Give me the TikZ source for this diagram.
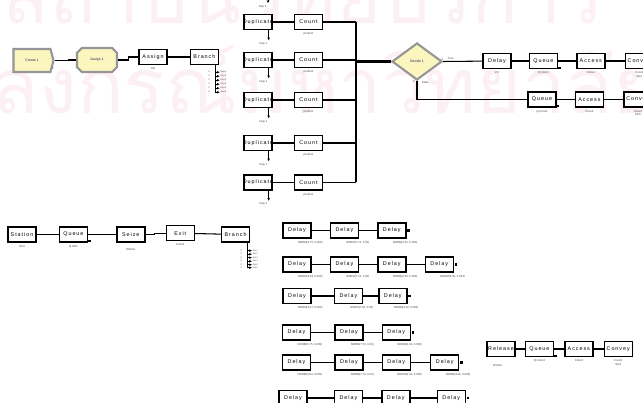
\documentclass[tikz,border=0pt]{standalone}
\usepackage{fontspec}
\setmainfont{Liberation Sans}
\newfontfamily\modfont[LetterSpace=18]{Liberation Sans}
\newfontfamily\thaifont[Script=Thai]{Loma}
\usetikzlibrary{arrows.meta,positioning,shapes.geometric,shapes.misc,shapes.symbols}
\definecolor{modfill}{RGB}{250,246,190}
\definecolor{modedge}{RGB}{150,150,150}
\definecolor{wmark}{RGB}{252,240,245}
\definecolor{cntblue}{RGB}{60,60,170}

\begin{document}
\begin{tikzpicture}[
  x=0.03cm, y=-0.03cm,
  block/.style={draw, line width=1.2pt, fill=white, minimum width=0.84cm, minimum height=0.45cm,
    inner sep=0pt, font=\modfont\fontsize{4.6}{5}\selectfont},
  flow/.style={draw=modedge, line width=1.8pt, fill=modfill, inner sep=0pt,
    font=\fontsize{3}{3.5}\selectfont, text=cntblue!60!black},
  link/.style={line width=0.9pt},
  bus/.style={line width=2pt},
  exitarr/.style={line width=0.8pt, -{Stealth[length=2.4pt,width=2.2pt]}},
  tag/.style={font=\fontsize{2.4}{2.8}\selectfont, text=black!75, inner sep=0pt, align=center},
  mini/.style={font=\fontsize{1.8}{2}\selectfont, text=black!75, inner sep=0pt},
  outpt/.style={fill, minimum size=2pt, inner sep=0pt},
  dly/.style={block, label={[tag, xshift=0.4cm, yshift=-2pt]below:#1}},
  note/.style={label={[tag, yshift=-2pt]below:#1}}
]
\useasboundingbox (0,0) rectangle (643,403);
\begin{scope}
\clip (0,0) rectangle (643,403);

% background lettering
\node[anchor=base west, inner sep=0pt, text=wmark, font=\thaifont\fontsize{66}{66}\selectfont] (wm1) at (2,24) {สถาบันวิทยบริการ};
\node[anchor=base west, inner sep=0pt, text=wmark, font=\thaifont\fontsize{66}{66}\selectfont] (wm2) at (-150,114) {จุฬาลงกรณ์มหาวิทยาลัย};

% arrivals
\node[flow, signal, signal to=east, signal pointer angle=150, minimum width=1.2cm, minimum height=0.69cm] (create) at (32,60.5) {Create 1};
\node[flow, chamfered rectangle, chamfered rectangle xsep=0.1cm, chamfered rectangle ysep=0.1cm,
  minimum width=1.2cm, minimum height=0.72cm] (asg1) at (97,60) {Assign 1};
\node[block, note=Job] (asg) at (153,57) {Assign};
\node[block, right=0.66cm of asg] (br1) {Branch};
\node[tag, text=cntblue] (crn) at (53,69) {0};

\draw[link] (create.east) -- ++(14,0) |- (asg1);
\draw[link] (asg1.east) -- ++(10,0) |- (asg);
\draw[link] (asg) -- (br1);

\path (br1.south east) ++(-4,0) coordinate (br1out);
\draw[link] (br1out) -- ++(0,27);
\draw[exitarr] (br1out) ++(0,7) -- ++(4.5,0) node[mini, right=0.5pt] (b1e1) {Dup.1};
\draw[exitarr] (br1out) ++(0,11) -- ++(4.5,0) node[mini, right=0.5pt] (b1e2) {Dup.2};
\draw[exitarr] (br1out) ++(0,15) -- ++(4.5,0) node[mini, right=0.5pt] (b1e3) {Dup.3};
\draw[exitarr] (br1out) ++(0,19) -- ++(4.5,0) node[mini, right=0.5pt] (b1e4) {Dup.4};
\draw[exitarr] (br1out) ++(0,23) -- ++(4.5,0) node[mini, right=0.5pt] (b1e5) {Dup.5};
\draw[exitarr] (br1out) ++(0,27) -- ++(4.5,0) node[mini, right=0.5pt] (b1e6) {Dup.6};
\node[mini, left=9pt of b1e1.west] (b1i1) {If};
\node[mini, left=9pt of b1e2.west] (b1i2) {If};
\node[mini, left=9pt of b1e3.west] (b1i3) {If};
\node[mini, left=9pt of b1e4.west] (b1i4) {If};
\node[mini, left=9pt of b1e5.west] (b1i5) {If};
\node[mini, left=9pt of b1e6.west] (b1i6) {If};

% duplicate and count column
\coordinate (topin) at (268,-7);
\draw[exitarr] (topin) -- ++(0,10) node[tag, below left=1.5pt and 1pt] (dup0t) {Dup.1};

\node[block] (dup1) at (258,22) {\makebox[0pt]{Duplicate}};
\node[block] (dup2) at (258,60) {\makebox[0pt]{Duplicate}};
\node[block] (dup3) at (258,100) {\makebox[0pt]{Duplicate}};
\node[block] (dup4) at (258,143) {\makebox[0pt]{Duplicate}};
\node[block] (dup5) at (258,182.5) {\makebox[0pt]{Duplicate}};
\node[block, note=prodcnt, right=0.63cm of dup1] (cnt1) {Count};
\node[block, note=prodcnt, right=0.63cm of dup2] (cnt2) {Count};
\node[block, note=prodcnt, right=0.63cm of dup3] (cnt3) {Count};
\node[block, note=prodcnt, right=0.63cm of dup4] (cnt4) {Count};
\node[block, note=prodcnt, right=0.63cm of dup5] (cnt5) {Count};

\draw[link] (dup1) -- (cnt1);
\draw[link] (dup2) -- (cnt2);
\draw[link] (dup3) -- (cnt3);
\draw[link] (dup4) -- (cnt4);
\draw[link] (dup5) -- (cnt5);

\draw[exitarr] ([xshift=-0.12cm]dup1.south east) -- ++(0,10) node[tag, below left=1.5pt and 1pt] (dup1t) {Dup.1};
\draw[exitarr] ([xshift=-0.12cm]dup2.south east) -- ++(0,10) node[tag, below left=1.5pt and 1pt] (dup2t) {Dup.1};
\draw[exitarr] ([xshift=-0.12cm]dup3.south east) -- ++(0,10) node[tag, below left=1.5pt and 1pt] (dup3t) {Dup.1};
\draw[exitarr] ([xshift=-0.12cm]dup4.south east) -- ++(0,10) node[tag, below left=1.5pt and 1pt] (dup4t) {Dup.1};
\draw[exitarr] ([xshift=-0.12cm]dup5.south east) -- ++(0,10) node[tag, below left=1.5pt and 1pt] (dup5t) {Dup.1};

\coordinate (bus) at (356,61);
\draw[link] (cnt1) -- (cnt1 -| bus);
\draw[link] (cnt2) -- (cnt2 -| bus);
\draw[link] (cnt3) -- (cnt3 -| bus);
\draw[link] (cnt4) -- (cnt4 -| bus);
\draw[link] (cnt5) -- (cnt5 -| bus);
\draw[link] (cnt1 -| bus) -- (cnt5 -| bus);

% decision and conveyors
\node[flow, diamond, minimum width=1.5cm, minimum height=1.11cm] (decide) at (417,61.5) {Decide 1};
\draw[bus] (cnt4 -| bus) |- (decide);

\node[block, note=2.5] (dly0) at (497,61) {Delay};
\node[block, note=Q.Conv1, right=0.51cm of dly0] (qt) {Queue};
\node[block, note=Conv1, right=0.54cm of qt] (act) {Access};
\node[block, note={Conv1\\Stn2}, right=0.57cm of act] (cvt) {Convey};
\node[block, note=Q.Conv2] (qb) at (542,99.5) {Queue};
\node[block, note=Conv2, right=0.54cm of qb] (acb) {Access};
\node[block, note={Conv2\\Stn3}, right=0.57cm of acb] (cvb) {Convey};

\draw[link] (decide.east) -- (dly0);
\draw[link] (decide.south) |- (qb);
\node[tag, above right=1.5pt and 4pt of decide.east] (dtrue) {True};
\node[tag, below right=0.5pt and 4pt of decide.south] (dfalse) {False};
\node[tag, text=cntblue, above left=1pt and 0pt of decide.east] (dn1) {0};
\node[tag, text=cntblue, left=2pt of decide.south] (dn2) {0};

\draw[link] (dly0) -- (qt);
\draw[link] (qt) -- (act);
\draw[link] (act) -- (cvt);
\draw[link] (qb) -- (acb);
\draw[link] (acb) -- (cvb);
\node[outpt, anchor=south west] (qto) at (qt.south east) {};
\node[outpt, anchor=south west] (qbo) at (qb.south east) {};

% station, queue, seize
\node[block, note=Stn1] (stn) at (22,234.5) {Station};
\node[block, note=Q.Stn1, right=0.66cm of stn] (q3) {Queue};
\node[block, label={[tag, yshift=-5pt]below:Worker}, right=0.84cm of q3] (seize) {Seize};
\node[block, note=Conv3, right=0.6cm of seize, yshift=0.04cm] (ext) {Exit};
\node[block, right=0.78cm of ext, yshift=-0.04cm] (br2) {Branch};
\node[outpt, anchor=south west] (q3o) at (q3.south east) {};

\draw[link] (stn) -- (q3);
\draw[link] (q3) -- (seize);
\draw[link] (seize.east) -- ++(9,0) |- (ext);
\draw[link] (ext) -- (br2);

\path (br2.south east) ++(-3,0) coordinate (br2out);
\draw[link] (br2out) -- ++(0,25);
\draw[exitarr] (br2out) ++(0,8) -- ++(4.5,0) node[mini, right=0.5pt] (b2e1) {Del.1};
\draw[exitarr] (br2out) ++(0,11.5) -- ++(4.5,0) node[mini, right=0.5pt] (b2e2) {Del.2};
\draw[exitarr] (br2out) ++(0,15) -- ++(4.5,0) node[mini, right=0.5pt] (b2e3) {Del.3};
\draw[exitarr] (br2out) ++(0,18.5) -- ++(4.5,0) node[mini, right=0.5pt] (b2e4) {Del.4};
\draw[exitarr] (br2out) ++(0,22) -- ++(4.5,0) node[mini, right=0.5pt] (b2e5) {Del.5};
\draw[exitarr] (br2out) ++(0,25) -- ++(4.5,0) node[mini, right=0.5pt] (b2e6) {Del.6};
\node[mini, left=9pt of b2e1.west] (b2i1) {If};
\node[mini, left=9pt of b2e2.west] (b2i2) {If};
\node[mini, left=9pt of b2e3.west] (b2i3) {If};
\node[mini, left=9pt of b2e4.west] (b2i4) {If};
\node[mini, left=9pt of b2e5.west] (b2i5) {If};
\node[mini, left=9pt of b2e6.west] (b2i6) {If};

% delay chains
\node[dly={NORM(3.75, 0.005)}] (a1) at (297,230.5) {Delay};
\node[dly={NORM(7.74, 0.03)}, right=0.54cm of a1] (a2) {Delay};
\node[dly={NORM(4.52, 0.050)}, right=0.54cm of a2] (a3) {Delay};
\draw[link] (a1) -- (a2);
\draw[link] (a2) -- (a3);
\node[outpt, right=0.5pt of a3] (a3o) {};

\node[dly={NORM(3.64, 0.005)}] (b1) at (297,264.5) {Delay};
\node[dly={NORM(7.74, 0.03)}, right=0.54cm of b1] (b2) {Delay};
\node[dly={NORM(4.52, 0.050)}, right=0.54cm of b2] (b3) {Delay};
\node[dly={NORM(4.35, 0.054)}, right=0.54cm of b3] (b4) {Delay};
\draw[link] (b1) -- (b2);
\draw[link] (b2) -- (b3);
\draw[link] (b3) -- (b4);
\node[outpt, right=0.5pt of b4] (b4o) {};

\node[dly={NORM(3.47, 0.005)}] (c1) at (297,296) {Delay};
\node[dly={NORM(7.18, 0.03)}, right=0.66cm of c1] (c2) {Delay};
\node[dly={NORM(4.52, 0.050)}, right=0.45cm of c2] (c3) {Delay};
\draw[link] (c1) -- (c2);
\draw[link] (c2) -- (c3);
\node[outpt, right=0.5pt of c3] (c3o) {};

\node[dly={NORM(3.75, 0.005)}] (d1) at (296.5,332.5) {Delay};
\node[dly={NORM(7.74, 0.03)}, right=0.69cm of d1] (d2) {Delay};
\node[dly={NORM(4.52, 0.050)}, right=0.54cm of d2] (d3) {Delay};
\draw[link] (d1) -- (d2);
\draw[link] (d2) -- (d3);
\node[outpt, right=0.5pt of d3] (d3o) {};

\node[dly={NORM(3.64, 0.005)}] (e1) at (296.5,362.5) {Delay};
\node[dly={NORM(7.74, 0.03)}, right=0.69cm of e1] (e2) {Delay};
\node[dly={NORM(4.52, 0.050)}, right=0.54cm of e2] (e3) {Delay};
\node[dly={NORM(4.35, 0.054)}, right=0.57cm of e3] (e4) {Delay};
\draw[link] (e1) -- (e2);
\draw[link] (e2) -- (e3);
\draw[link] (e3) -- (e4);
\node[outpt, right=0.5pt of e4] (e4o) {};

\node[block] (f1) at (293,398) {Delay};
\node[block, right=0.78cm of f1] (f2) {Delay};
\node[block, right=0.54cm of f2] (f3) {Delay};
\node[block, right=0.78cm of f3] (f4) {Delay};
\draw[link] (f1) -- (f2);
\draw[link] (f2) -- (f3);
\draw[link] (f3) -- (f4);
\node[outpt, right=0.5pt of f4] (f4o) {};

% release to conveyor
\node[block, label={[tag, xshift=-0.1cm, yshift=-6pt]below:Worker}] (rel) at (501,349) {Release};
\node[block, note=Q.Conv3, right=0.27cm of rel] (qr) {Queue};
\node[block, note=Conv3, right=0.3cm of qr] (acr) {Access};
\node[block, note={Conv3\\Stn4}, right=0.3cm of acr] (cvr) {Convey};
\node[outpt, anchor=south west] (qro) at (qr.south east) {};
\draw[link] (rel) -- (qr);
\draw[link] (qr) -- (acr);
\draw[link] (acr) -- (cvr);
\end{scope}
\end{tikzpicture}
\end{document}
